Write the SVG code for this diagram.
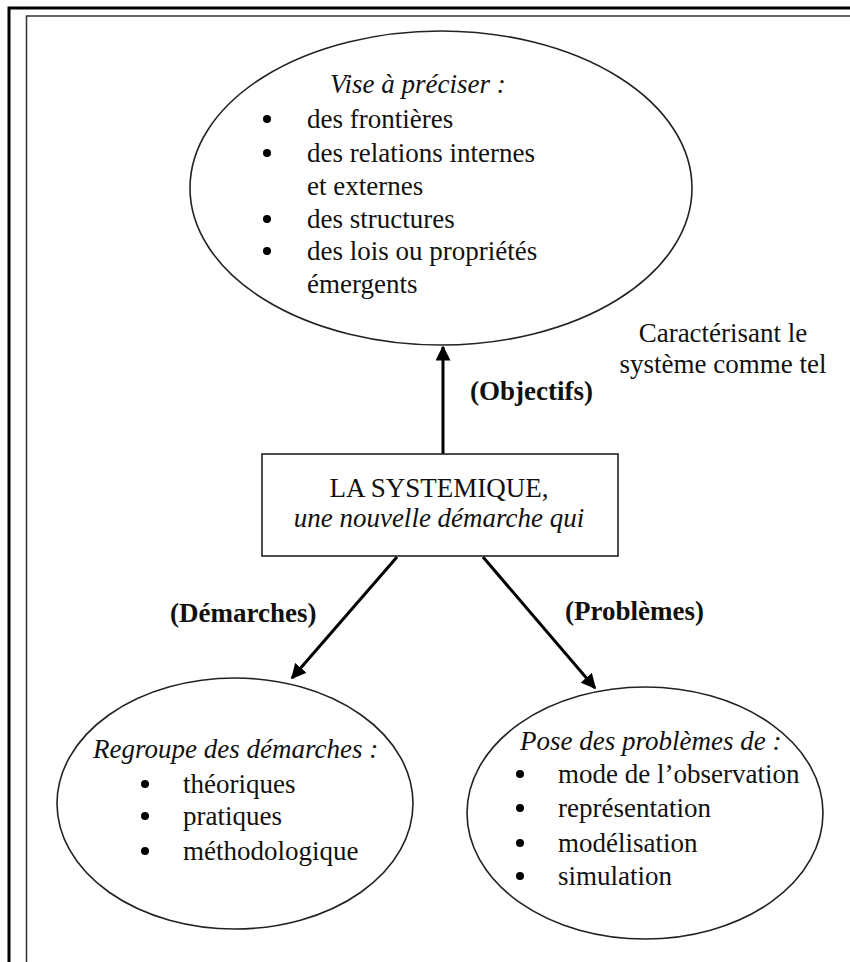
<svg xmlns="http://www.w3.org/2000/svg" width="850" height="962" viewBox="0 0 850 962">
<style>
.t{font-family:"Liberation Serif","Times New Roman",serif;font-size:27px;fill:#111}
.i{font-style:italic}
.b{font-weight:bold}
.shape{fill:#fff;stroke:#222;stroke-width:1.6}
.conn{stroke:#000;stroke-width:3;fill:none}
.dot{fill:#000}
</style>
<defs>
<marker id="ah" viewBox="0 0 10 10" refX="9" refY="5" markerWidth="5" markerHeight="5" orient="auto" markerUnits="strokeWidth">
<path d="M0,0 L10,5 L0,10 z" fill="#000"/>
</marker>
</defs>
<rect x="0" y="0" width="850" height="962" fill="#fff"/>
<g id="frame">
<path d="M9,962 V8 H850" fill="none" stroke="#000" stroke-width="3"/>
<path d="M26.5,962 V16 H850" fill="none" stroke="#333" stroke-width="1.5"/>
</g>
<g id="connectors">
<line class="conn" x1="443" y1="454" x2="443" y2="347" marker-end="url(#ah)"/>
<line class="conn" x1="397" y1="557" x2="292" y2="678" marker-end="url(#ah)"/>
<line class="conn" x1="483" y1="557" x2="595" y2="688" marker-end="url(#ah)"/>
</g>
<g id="objectifs-node">
<ellipse class="shape" cx="441" cy="188" rx="251" ry="157"/>
<text class="t i" x="330" y="93">Vise à préciser :</text>
<circle class="dot" cx="267" cy="119" r="4"/>
<text class="t" x="307" y="128">des frontières</text>
<circle class="dot" cx="267" cy="153" r="4"/>
<text class="t" x="307" y="162">des relations internes</text>
<text class="t" x="307" y="195">et externes</text>
<circle class="dot" cx="267" cy="219" r="4"/>
<text class="t" x="307" y="228">des structures</text>
<circle class="dot" cx="267" cy="251" r="4"/>
<text class="t" x="307" y="260">des lois ou propriétés</text>
<text class="t" x="307" y="293">émergents</text>
</g>
<g id="caracterisant-label">
<text class="t" x="723" y="342" text-anchor="middle">Caractérisant le</text>
<text class="t" x="723" y="373" text-anchor="middle">système comme tel</text>
</g>
<g id="objectifs-label">
<text class="t b" x="470" y="400">(Objectifs)</text>
</g>
<g id="systemique-node">
<rect class="shape" x="262" y="454" width="356" height="102"/>
<text class="t" x="439" y="497" text-anchor="middle">LA SYSTEMIQUE,</text>
<text class="t i" x="439" y="527" text-anchor="middle">une nouvelle démarche qui</text>
</g>
<g id="demarches-label">
<text class="t b" x="170" y="622">(Démarches)</text>
</g>
<g id="problemes-label">
<text class="t b" x="565" y="620">(Problèmes)</text>
</g>
<g id="demarches-node">
<ellipse class="shape" cx="235" cy="803.5" rx="178" ry="125.5"/>
<text class="t i" x="93" y="758">Regroupe des démarches :</text>
<circle class="dot" cx="145" cy="784" r="4"/>
<text class="t" x="183" y="793">théoriques</text>
<circle class="dot" cx="145" cy="816" r="4"/>
<text class="t" x="183" y="825">pratiques</text>
<circle class="dot" cx="145" cy="851" r="4"/>
<text class="t" x="183" y="860">méthodologique</text>
</g>
<g id="problemes-node">
<ellipse class="shape" cx="645" cy="813" rx="178" ry="126"/>
<text class="t i" x="520" y="750">Pose des problèmes de :</text>
<circle class="dot" cx="520" cy="774" r="4"/>
<text class="t" x="558" y="783">mode de l’observation</text>
<circle class="dot" cx="520" cy="808" r="4"/>
<text class="t" x="558" y="817">représentation</text>
<circle class="dot" cx="520" cy="843" r="4"/>
<text class="t" x="558" y="852">modélisation</text>
<circle class="dot" cx="520" cy="876" r="4"/>
<text class="t" x="558" y="885">simulation</text>
</g>
</svg>
